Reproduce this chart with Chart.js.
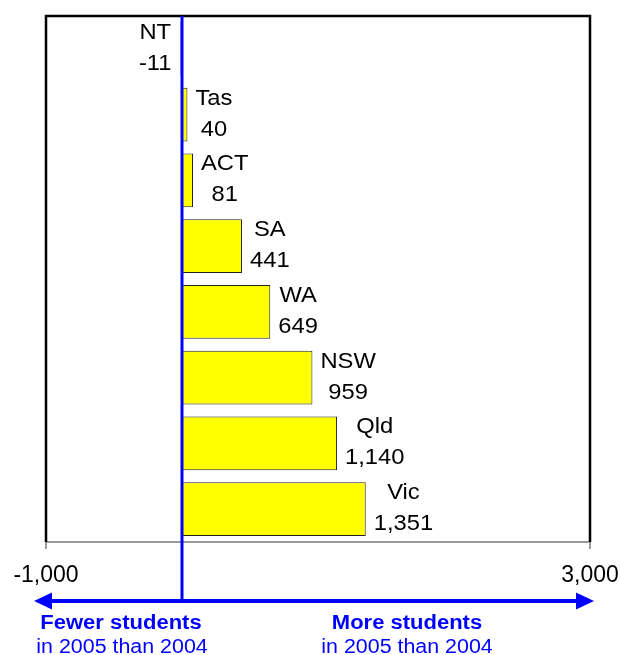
<!DOCTYPE html>
<html>
<head>
<meta charset="utf-8">
<script src="https://cdn.jsdelivr.net/npm/chart.js@4/dist/chart.umd.min.js"></script>
<style>
  html,body{margin:0;padding:0;background:#fff;}
  #wrap{width:621px;height:655px;position:relative;}
</style>
</head>
<body>
<div id="wrap"><canvas id="c"></canvas></div>
<script>
'use strict';

/* Daten: Veränderung der Schülerzahl 2004 -> 2005 */
const states = ['NT','Tas','ACT','SA','WA','NSW','Qld','Vic'];
const change = [-11, 40, 81, 441, 649, 959, 1140, 1351];
const xTicks = [-1000, 3000];

const FONT = '"Liberation Sans", Arial, sans-serif';
const BLUE = '#0000ff';
const fmt = (v)=>v.toLocaleString('en-US');

/* Text leicht in die Breite gezogen, wie im Original */
function wideText(ctx, txt, x, y, sx){
  ctx.save(); ctx.translate(x, y); ctx.scale(sx, 1);
  ctx.fillText(txt, 0, 0); ctx.restore();
}

/* Rahmen oben/links/rechts */
const frame = {
  id:'frame',
  beforeDatasetsDraw(chart){
    const {ctx, chartArea:a} = chart;
    ctx.save();
    ctx.strokeStyle='#000'; ctx.lineWidth=2.5;
    ctx.beginPath();
    ctx.moveTo(a.left, a.bottom); ctx.lineTo(a.left, a.top);
    ctx.lineTo(a.right, a.top); ctx.lineTo(a.right, a.bottom);
    ctx.stroke();
    ctx.restore();
  }
};

/* Beschriftung: Name + Wert neben dem Balken */
const labels = {
  id:'labels',
  afterDatasetsDraw(chart){
    const {ctx} = chart;
    const meta = chart.getDatasetMeta(0);
    const sx = 1.08;
    ctx.save();
    ctx.font = '22px '+FONT; ctx.fillStyle='#000';
    ctx.textAlign='center'; ctx.textBaseline='alphabetic';
    meta.data.forEach((bar,i)=>{
      const v = change[i], l1 = states[i], l2 = fmt(v);
      const w = sx*Math.max(ctx.measureText(l1).width, ctx.measureText(l2).width);
      const cx = v<0 ? bar.x - 9 - w/2 : bar.x + 8 + w/2;
      wideText(ctx, l1, cx, bar.y - 10, sx);
      wideText(ctx, l2, cx, bar.y + 21, sx);
    });
    ctx.restore();
  }
};

/* Null-Linie, Pfeil und Erklärung unten */
const arrows = {
  id:'arrows',
  afterDraw(chart){
    const {ctx, chartArea:a} = chart;
    const x = chart.scales.x;
    const x0 = x.getPixelForValue(0);
    const ay = 601;
    ctx.save();
    ctx.strokeStyle=BLUE; ctx.fillStyle=BLUE;
    ctx.lineWidth=3;
    ctx.beginPath(); ctx.moveTo(x0, a.top); ctx.lineTo(x0, ay); ctx.stroke();
    ctx.lineWidth=4;
    ctx.beginPath(); ctx.moveTo(48, ay); ctx.lineTo(580, ay); ctx.stroke();
    ctx.beginPath(); ctx.moveTo(34, ay); ctx.lineTo(52, ay-8.5); ctx.lineTo(52, ay+8.5); ctx.closePath(); ctx.fill();
    ctx.beginPath(); ctx.moveTo(594, ay); ctx.lineTo(576, ay-8.5); ctx.lineTo(576, ay+8.5); ctx.closePath(); ctx.fill();
    ctx.textAlign='center'; ctx.textBaseline='alphabetic';
    ctx.font='bold 20px '+FONT;
    wideText(ctx, 'Fewer students', 121, 629, 1.1);
    wideText(ctx, 'More students', 407, 629, 1.1);
    ctx.font='20px '+FONT;
    wideText(ctx, 'in 2005 than 2004', 122, 653, 1.07);
    wideText(ctx, 'in 2005 than 2004', 407, 653, 1.07);
    ctx.restore();
  }
};

new Chart(document.getElementById('c'), {
  type:'bar',
  data:{ labels:states, datasets:[{
    data:change, backgroundColor:'#ffff00', borderColor:'#222', borderWidth:1,
    categoryPercentage:0.82, barPercentage:1
  }]},
  options:{
    indexAxis:'y', responsive:true, maintainAspectRatio:false, animation:false,
    layout:{ padding:{ left:46, right:31, top:16, bottom:0 } },
    plugins:{ legend:{display:false}, tooltip:{enabled:false}, title:{display:false} },
    scales:{
      x:{ min:-1000, max:3000,
        afterBuildTicks(s){ s.ticks = xTicks.map(v=>({value:v})); },
        afterFit(s){ s.height = 113; s.paddingLeft = 0; s.paddingRight = 0; },
        border:{ display:true, color:'#999', width:2 },
        grid:{ drawOnChartArea:false, drawTicks:true, tickLength:7, color:'#999', lineWidth:2 },
        ticks:{ color:'#000', padding:13, maxRotation:0, font:{ family:FONT, size:23 },
          callback:(v)=>fmt(v) }
      },
      y:{ display:false }
    }
  },
  plugins:[frame, labels, arrows]
});
</script>
</body>
</html>
